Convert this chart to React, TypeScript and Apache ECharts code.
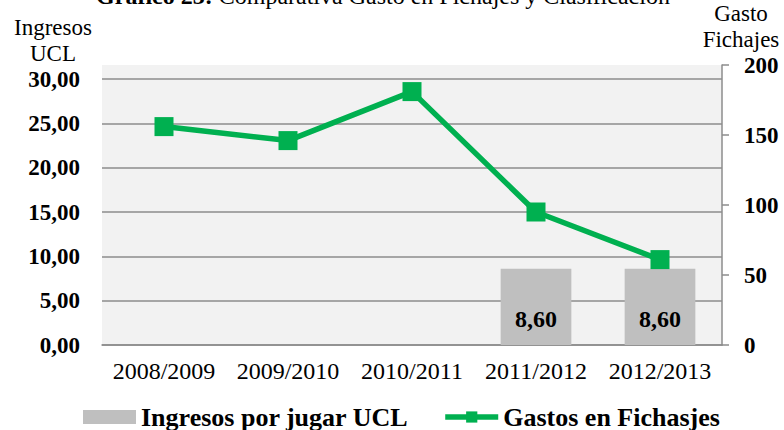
import React, { useEffect, useRef } from "react";
import * as echarts from "echarts";

const categories = ["2008/2009", "2009/2010", "2010/2011", "2011/2012", "2012/2013"];
const ingresosUCL = [null, null, null, 8.6, 8.6];
const gastosFichajes = [156, 146, 181, 95, 61];
const leftTicks = { min: 0, max: 31.6, interval: 5 };
const rightTicks = { min: 0, max: 200, interval: 50 };

const FONT = "'Liberation Serif', 'DejaVu Serif', serif";
const fmt = (v: number) => v.toFixed(2).replace(".", ",");

const axisTitle = (text: string, x: number, y: number) => ({
  type: "text",
  x,
  y,
  style: {
    text,
    fontFamily: FONT,
    fontSize: 23,
    lineHeight: 26,
    fill: "#000",
    align: "center",
    verticalAlign: "middle",
  },
});

export default function App() {
  const ref = useRef<HTMLDivElement>(null);
  useEffect(() => {
    if (!ref.current) return;
    document.body.style.margin = "0";
    const chart = echarts.init(ref.current, null, { renderer: "svg" });
    chart.setOption({
      animation: false,
      textStyle: { fontFamily: FONT },
      grid: {
        left: 102,
        right: 62,
        top: 65,
        bottom: 85,
        show: true,
        backgroundColor: "#f2f2f2",
        borderWidth: 0,
      },
      legend: {
        left: 78,
        top: 399,
        itemWidth: 53,
        itemHeight: 14,
        itemGap: 34,
        textStyle: { fontFamily: FONT, fontSize: 26, fontWeight: "bold", color: "#000" },
        data: [
          { name: "Ingresos por jugar UCL", icon: "rect" },
          { name: "Gastos en Fichasjes", lineStyle: { width: 5.5, color: "#00b050" } },
        ],
      },
      graphic: [
        {
          type: "text",
          x: 383,
          y: 8,
          style: {
            text: "{b|Gráfico 23:} Comparativa Gasto en Fichajes y Clasificación",
            fontFamily: FONT,
            fontSize: 24,
            fill: "#000",
            align: "center",
            verticalAlign: "bottom",
            rich: { b: { fontWeight: "bold", fontFamily: FONT, fontSize: 24 } },
          },
        },
        axisTitle("Ingresos\nUCL", 53, 40),
        axisTitle("Gasto\nFichajes", 741, 26),
      ],
      xAxis: {
        type: "category",
        data: categories,
        axisLine: { show: true, lineStyle: { color: "#8c8c8c", width: 1.5 } },
        axisTick: { show: false },
        axisLabel: { fontFamily: FONT, fontSize: 24, color: "#000", margin: 14, interval: 0 },
      },
      yAxis: [
        {
          type: "value",
          min: leftTicks.min,
          max: leftTicks.max,
          interval: leftTicks.interval,
          axisLine: { show: false },
          axisTick: { show: false },
          splitLine: { show: true, showMaxLine: false, lineStyle: { color: "#8c8c8c", width: 1.5 } },
          axisLabel: {
            fontFamily: FONT,
            fontSize: 23,
            fontWeight: "bold",
            color: "#000",
            margin: 22,
            showMaxLabel: false,
            formatter: (v: number) => fmt(v),
          },
        },
        {
          type: "value",
          position: "right",
          min: rightTicks.min,
          max: rightTicks.max,
          interval: rightTicks.interval,
          axisLine: { show: true, lineStyle: { color: "#8c8c8c", width: 1.5 } },
          axisTick: { show: true, inside: false, length: 7, lineStyle: { color: "#8c8c8c", width: 1.5 } },
          splitLine: { show: false },
          axisLabel: { fontFamily: FONT, fontSize: 23, fontWeight: "bold", color: "#000", margin: 22 },
        },
      ],
      series: [
        {
          name: "Ingresos por jugar UCL",
          type: "bar",
          yAxisIndex: 0,
          data: ingresosUCL,
          barWidth: "57%",
          itemStyle: { color: "#bfbfbf" },
          label: {
            show: true,
            position: "insideBottom",
            distance: 14,
            fontFamily: FONT,
            fontSize: 24,
            fontWeight: "bold",
            color: "#000",
            formatter: (p: any) => fmt(p.value),
          },
        },
        {
          name: "Gastos en Fichasjes",
          type: "line",
          yAxisIndex: 1,
          data: gastosFichajes,
          symbol: "rect",
          symbolSize: 19,
          itemStyle: { color: "#00b050" },
          lineStyle: { color: "#00b050", width: 5.5 },
          z: 5,
        },
      ],
    });
    return () => chart.dispose();
  }, []);
  return <div ref={ref} style={{ width: 784, height: 430 }} />;
}
